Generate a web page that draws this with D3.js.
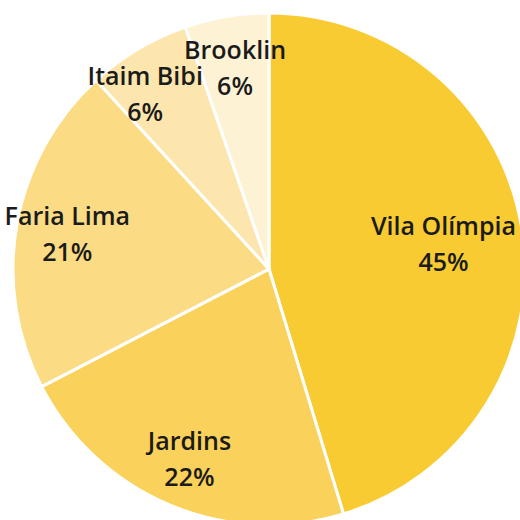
<!DOCTYPE html>
<html><head><meta charset="utf-8">
<script src="https://cdn.jsdelivr.net/npm/d3@7"></script>
<style>html,body{margin:0;padding:0;background:#fff;}svg{display:block;}</style>
</head><body>
<svg id="c" width="520" height="520"></svg>
<script>
const categories = ["Vila Olímpia", "Jardins", "Faria Lima", "Itaim Bibi", "Brooklin"];
const values = [45.3, 22.1, 20.8, 6.5, 5.3];
const labels = ["45%", "22%", "21%", "6%", "6%"];
const colors = ["#F9CB32", "#FAD25B", "#FBDB83", "#FCE6AD", "#FEF2D5"];

const W = 520, H = 520, cx = 269, cy = 269, R = 256;
const svg = d3.select("#c");
const g = svg.append("g").attr("transform", `translate(${cx},${cy})`);
const pie = d3.pie().sort(null).value(d => d)(values);
const arc = d3.arc().innerRadius(0).outerRadius(R);
g.selectAll("path").data(pie).join("path")
  .attr("d", arc).attr("fill", (d,i) => colors[i])
  .attr("stroke", "#fff").attr("stroke-width", 3).attr("stroke-linejoin","miter");

const fs = 25, lh = 36;
const items = pie.map((d,i) => {
  const t = g.append("text").attr("text-anchor","middle")
    .attr("font-family","'Open Sans', 'Noto Sans', sans-serif")
    .attr("font-size", fs).attr("font-weight", 600).attr("fill","#1b1b1b");
  const l1 = t.append("tspan").attr("x",0).attr("dy",0).text(categories[i]);
  const l2 = t.append("tspan").attr("x",0).attr("dy",lh).text(labels[i]);
  const bb = t.node().getBBox();
  return {t, bb, w1: l1.node().getComputedTextLength(), w2: l2.node().getComputedTextLength(),
          a: (d.startAngle + d.endAngle)/2, r: R*0.8};
});
function place(it) {
  const hw = Math.max(it.w1, it.w2)/2, sx = Math.sin(it.a);
  let r = it.r;
  if (cx + r*sx + hw > W - 4) r = (W - 4 - hw - cx)/sx;
  if (cx + r*sx - hw < 4) r = (4 + hw - cx)/sx;
  it.x = r*Math.sin(it.a);
  it.y = -r*Math.cos(it.a) - (it.bb.y + it.bb.height/2);
}
function boxes(it) {
  return [[it.x - it.w1/2, it.y - fs*0.75, it.x + it.w1/2, it.y + fs*0.15],
          [it.x - it.w2/2, it.y + lh - fs*0.75, it.x + it.w2/2, it.y + lh + fs*0.15]];
}
function overlap(a, b) {
  return boxes(a).some(p => boxes(b).some(q =>
    p[0] < q[2] + 14 && q[0] < p[2] + 14 && p[1] < q[3] && q[1] < p[3]));
}
items.forEach(place);
for (let i = items.length - 2; i >= 0; i--) {
  let n = 0;
  const dir = Math.sin(items[i].a) < Math.sin(items[i+1].a) ? -1 : 1;
  while (overlap(items[i], items[i+1]) && n < 80) { items[i].x += dir; n++; }
}
items.forEach(it => it.t.attr("transform", `translate(${it.x},${it.y})`));
</script>
</body></html>
